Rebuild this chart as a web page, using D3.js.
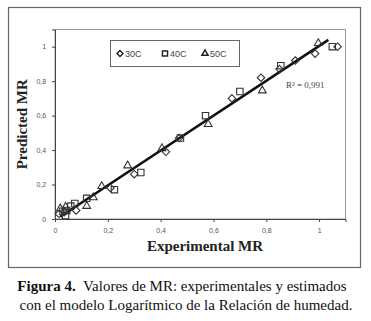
<!DOCTYPE html>
<html>
<head>
<meta charset="utf-8">
<script src="https://cdn.jsdelivr.net/npm/d3@7"></script>
<style>
  body { margin: 0; background: #fff; }
  svg { display: block; }
</style>
</head>
<body>
<svg id="chart" width="371" height="321"></svg>
<script>
// data
const s30 = [[0.015,0.03],[0.035,0.04],[0.08,0.05],[0.21,0.18],[0.30,0.26],[0.42,0.39],
  [0.47,0.47],[0.67,0.70],[0.78,0.82],[0.85,0.87],[0.91,0.92],[0.985,0.96],[1.07,1.0]];
const s40 = [[0.04,0.02],[0.03,0.045],[0.045,0.05],[0.06,0.075],[0.075,0.09],[0.12,0.12],
  [0.225,0.17],[0.325,0.27],[0.475,0.47],[0.57,0.60],[0.70,0.74],[0.855,0.89],[1.05,1.0]];
const s50 = [[0.02,0.06],[0.04,0.07],[0.12,0.075],[0.145,0.125],[0.177,0.19],[0.275,0.31],
  [0.405,0.41],[0.58,0.55],[0.785,0.745],[0.997,1.02]];
const trend = [[0.02,0.013],[1.035,1.04]];
const ticks = [0, 0.2, 0.4, 0.6, 0.8, 1];
const legendLabels = ['30C', '40C', '50C'];

const svg = d3.select('#chart');

// outer frame
svg.append('rect')
  .attr('x', 8.5).attr('y', 7.5).attr('width', 352).attr('height', 260)
  .attr('fill', 'none').attr('stroke', '#666').attr('stroke-width', 1.2);

const x = d3.scaleLinear().domain([0, 1.1]).range([55, 345.5]);
const y = d3.scaleLinear().domain([0, 1.1]).range([219, 29.5]);

// plot area border
svg.append('rect')
  .attr('x', x(0)).attr('y', y(1.1))
  .attr('width', x(1.1) - x(0)).attr('height', y(0) - y(1.1))
  .attr('fill', 'none').attr('stroke', '#999').attr('stroke-width', 1);

const fmt = d => d3.format('.1f')(d).replace('.', ',').replace(/^0,0$/, '0').replace(/^1,0$/, '1');

const xAxis = svg.append('g')
  .attr('transform', `translate(0,${y(0)})`)
  .call(d3.axisBottom(x).tickValues(ticks).tickSize(3).tickFormat(fmt));
const yAxis = svg.append('g')
  .attr('transform', `translate(${x(0)},0)`)
  .call(d3.axisLeft(y).tickValues(ticks).tickSize(3).tickFormat(fmt));
[xAxis, yAxis].forEach(a => {
  a.select('.domain').attr('stroke', '#444');
  a.selectAll('.tick line').attr('stroke', '#444');
  a.selectAll('text').attr('fill', '#555')
    .style('font-family', 'Liberation Sans, Arial, sans-serif').style('font-size', '7px');
});
xAxis.selectAll('text').attr('dy', '1.2em');
yAxis.selectAll('text').attr('dx', '-0.4em');

// trend line
svg.append('line')
  .attr('x1', x(trend[0][0])).attr('y1', y(trend[0][1]))
  .attr('x2', x(trend[1][0])).attr('y2', y(trend[1][1]))
  .attr('stroke', '#111').attr('stroke-width', 2.6);

const mk = {
  diamond: d3.symbol().type(d3.symbolDiamond2).size(36),
  square: d3.symbol().type(d3.symbolSquare2).size(52),
  triangle: d3.symbol().type(d3.symbolTriangle2).size(44)
};
const series = [
  { data: s30, shape: 'diamond' },
  { data: s40, shape: 'square' },
  { data: s50, shape: 'triangle' }
];
series.forEach(s => {
  svg.append('g').selectAll('path')
    .data(s.data)
    .join('path')
      .attr('d', mk[s.shape])
      .attr('transform', d => `translate(${x(d[0])},${y(d[1])})`)
      .attr('fill', 'none').attr('stroke', '#333').attr('stroke-width', 1.1);
});

// R² label
svg.append('text')
  .attr('x', 286).attr('y', 88)
  .attr('fill', '#444')
  .style('font-family', 'Liberation Serif, Times New Roman, serif').style('font-size', '9px')
  .text('R² = 0,991');

// legend
const lg = svg.append('g');
lg.append('rect')
  .attr('x', 110.5).attr('y', 40.5).attr('width', 129).attr('height', 26)
  .attr('fill', '#fff').attr('stroke', '#666').attr('stroke-width', 1);
const lgX = [120, 165, 205];
legendLabels.forEach((t, i) => {
  lg.append('path')
    .attr('d', mk[series[i].shape])
    .attr('transform', `translate(${lgX[i]},53.5) scale(0.8)`)
    .attr('fill', 'none').attr('stroke', '#222').attr('stroke-width', 1.8);
  lg.append('text')
    .attr('x', lgX[i] + 5).attr('y', 57)
    .attr('fill', '#444')
    .style('font-family', 'Liberation Sans, Arial, sans-serif').style('font-size', '9px')
    .text(t);
});

// axis titles
svg.append('text')
  .attr('transform', 'rotate(-90)')
  .attr('x', -(y(0) + y(1.1)) / 2).attr('y', 27)
  .attr('text-anchor', 'middle')
  .attr('fill', '#222')
  .style('font-family', 'Liberation Serif, Times New Roman, serif')
  .style('font-size', '15px').style('font-weight', 'bold')
  .text('Predicted MR');
svg.append('text')
  .attr('x', 205).attr('y', 251)
  .attr('text-anchor', 'middle')
  .attr('fill', '#222')
  .style('font-family', 'Liberation Serif, Times New Roman, serif')
  .style('font-size', '15px').style('font-weight', 'bold')
  .text('Experimental MR');

// caption
const cap = svg.append('text')
  .attr('text-anchor', 'middle')
  .attr('fill', '#111')
  .style('font-family', 'Liberation Serif, Times New Roman, serif')
  .style('font-size', '15px');
const l1 = cap.append('tspan').attr('x', 182).attr('y', 291);
l1.append('tspan').style('font-weight', 'bold').text('Figura 4.');
l1.append('tspan').text('\u00a0 Valores de MR: experimentales y estimados');
cap.append('tspan').attr('x', 186).attr('y', 310)
  .text('con el modelo Logarítmico de la Relación de humedad.');
</script>
</body>
</html>
